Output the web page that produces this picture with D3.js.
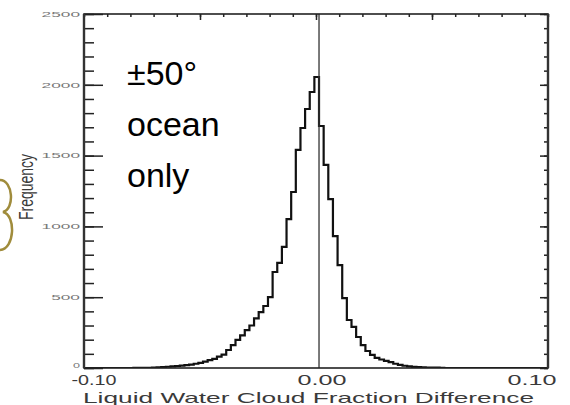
<!DOCTYPE html>
<html>
<head>
  <meta charset="UTF-8">
  <title>Liquid Water Cloud Fraction Difference</title>
  <script src="https://d3js.org/d3.v7.min.js"></script>
  <style>
    body { margin: 0; background: #fff; }
    svg { display: block; }
  </style>
</head>
<body>
  <div id="chart"></div>
  <script>
    // histogram bins (width 0.002), counts
    const binStart = -0.0987;
    const binWidth = 0.002;
    const counts = [
      0, 0, 0, 0, 0, 0, 0, 0, 0, 0,
      1, 1, 1, 1, 2, 4, 6, 9, 12, 14,
      17, 20, 24, 30, 36, 45, 55, 65, 80, 95,
      127, 162, 198, 230, 268, 300, 350, 395, 438, 501,
      678, 742, 855, 1052, 1243, 1540, 1695, 1829, 1949, 2055,
      1709, 1434, 1193, 932, 727, 494, 339, 290, 219, 162,
      120, 92, 71, 60, 50, 42, 30, 22, 16, 12,
      8, 6, 4, 3, 2, 2, 1, 0, 0, 0,
      0, 0, 0, 0, 0, 0, 0, 0, 0, 0,
      0, 0, 0, 0, 0, 0, 0, 0, 0, 0
    ];
    const refLine = 0.0013;

    const yMajor = [0, 500, 1000, 1500, 2000, 2500];
    const yMinor = d3.range(0, 2501, 100);
    const xMajor = [-0.05, 0, 0.05];
    const xMinor = d3.range(-10, 11).map(d => d / 100);
    const xTickValues = [-0.1, 0, 0.1];
    const xTickLabels = ["-0.10", "0.00", "0.10"];
    const xTitle = "Liquid Water Cloud Fraction Difference";
    const yTitle = "Frequency";
    const note = ["±50°", "ocean", "only"];

    const W = 570, H = 405;
    const m = { left: 84, right: 548, top: 14, bottom: 368 };

    const svg = d3.select("#chart").append("svg")
      .attr("width", W).attr("height", H);

    const x = d3.scaleLinear().domain([-0.1, 0.1]).range([m.left, m.right]);
    const y = d3.scaleLinear().domain([0, 2500]).range([m.bottom, m.top]);

    svg.append("clipPath").attr("id", "plot")
      .append("rect").attr("x", m.left).attr("y", m.top)
      .attr("width", m.right - m.left).attr("height", m.bottom - m.top);

    // olive scrap of a slide logo cut off at the left edge (decoration)
    svg.append("path")
      .attr("d", "M0,180 C13,180 15,209 3,212 C16,215 15,249 0,250")
      .attr("fill", "none")
      .attr("stroke", "#a08c3c")
      .attr("stroke-width", 2.5);

    // histogram as a step line
    const pts = counts.map((c, i) => [binStart + i * binWidth, c]);
    pts.push([binStart + counts.length * binWidth, 0]);
    pts.unshift([-0.12, 0]);

    const line = d3.line()
      .x(d => x(d[0]))
      .y(d => y(d[1]))
      .curve(d3.curveStepAfter);

    svg.append("path")
      .datum(pts)
      .attr("clip-path", "url(#plot)")
      .attr("d", line)
      .attr("fill", "none")
      .attr("stroke", "#111")
      .attr("stroke-width", 2.2);

    // vertical reference line
    svg.append("line")
      .attr("x1", x(refLine)).attr("x2", x(refLine))
      .attr("y1", m.top).attr("y2", m.bottom)
      .attr("stroke", "#333").attr("stroke-width", 1.3);

    // axes with inward ticks
    function styleAxis(g) {
      g.select(".domain").remove();
      g.selectAll(".tick line").attr("stroke", "#222").attr("stroke-width", 1.5);
    }
    svg.append("g").attr("transform", `translate(${m.left},0)`)
      .call(d3.axisRight(y).tickValues(yMinor).tickSize(10).tickFormat(""))
      .call(styleAxis);
    svg.append("g").attr("transform", `translate(${m.left},0)`)
      .call(d3.axisRight(y).tickValues(yMajor).tickSize(19).tickFormat(""))
      .call(styleAxis);
    svg.append("g").attr("transform", `translate(${m.right},0)`)
      .call(d3.axisLeft(y).tickValues(yMinor).tickSize(4).tickFormat(""))
      .call(styleAxis);
    svg.append("g").attr("transform", `translate(${m.right},0)`)
      .call(d3.axisLeft(y).tickValues(yMajor).tickSize(8).tickFormat(""))
      .call(styleAxis);
    svg.append("g").attr("transform", `translate(0,${m.top})`)
      .call(d3.axisBottom(x).tickValues(xMinor).tickSize(3).tickFormat(""))
      .call(styleAxis);
    svg.append("g").attr("transform", `translate(0,${m.top})`)
      .call(d3.axisBottom(x).tickValues(xMajor).tickSize(6).tickFormat(""))
      .call(styleAxis);

    // frame
    svg.append("rect")
      .attr("x", m.left).attr("y", m.top)
      .attr("width", m.right - m.left).attr("height", m.bottom - m.top)
      .attr("fill", "none").attr("stroke", "#222").attr("stroke-width", 1.6);
    svg.append("line").attr("x1", m.left).attr("x2", m.left)
      .attr("y1", m.top).attr("y2", m.bottom)
      .attr("stroke", "#333").attr("stroke-width", 2.4);
    svg.append("line").attr("x1", m.right).attr("x2", m.right)
      .attr("y1", m.top).attr("y2", m.bottom)
      .attr("stroke", "#333").attr("stroke-width", 2.4);

    // y tick labels (stretched like the source)
    svg.selectAll(".ylab").data(yMajor).enter().append("text")
      .attr("class", "ylab")
      .attr("x", m.left - 4).attr("y", d => y(d) - (d === 0 ? 3 : 0))
      .attr("dy", "0.34em")
      .attr("text-anchor", "end")
      .attr("textLength", d => String(d).length === 1 ? 7 : String(d).length * 9.6)
      .attr("lengthAdjust", "spacingAndGlyphs")
      .style("font-family", "Liberation Sans")
      .style("font-size", "8px")
      .attr("fill", "#777")
      .text(d => d);

    // x tick labels
    const xLabDx = [10, 6, -16];
    svg.selectAll(".xlab").data(xTickValues).enter().append("text")
      .attr("class", "xlab")
      .attr("x", (d, i) => x(d) + xLabDx[i]).attr("y", 385)
      .attr("text-anchor", "middle")
      .attr("textLength", (d, i) => i === 0 ? 45 : 49)
      .attr("lengthAdjust", "spacingAndGlyphs")
      .style("font-family", "Liberation Sans")
      .style("font-size", "15px")
      .attr("fill", "#3a3a3a")
      .text((d, i) => xTickLabels[i]);

    svg.append("text")
      .attr("x", 308.5).attr("y", 403)
      .attr("text-anchor", "middle")
      .attr("textLength", 451)
      .attr("lengthAdjust", "spacingAndGlyphs")
      .style("font-family", "Liberation Sans")
      .style("font-size", "15px")
      .attr("fill", "#3a3a3a")
      .text(xTitle);

    svg.append("text")
      .attr("transform", "translate(33,187) rotate(-90) scale(1,1.5)")
      .attr("text-anchor", "middle")
      .style("font-family", "Liberation Sans")
      .style("font-size", "14px")
      .attr("fill", "#3a3a3a")
      .text(yTitle);

    // annotation
    svg.selectAll(".note").data(note).enter().append("text")
      .attr("class", "note")
      .attr("x", 127).attr("y", (d, i) => 85 + i * 51)
      .style("font-family", "Liberation Sans")
      .style("font-size", "34px")
      .attr("fill", "#000")
      .text(d => d);
  </script>
</body>
</html>
